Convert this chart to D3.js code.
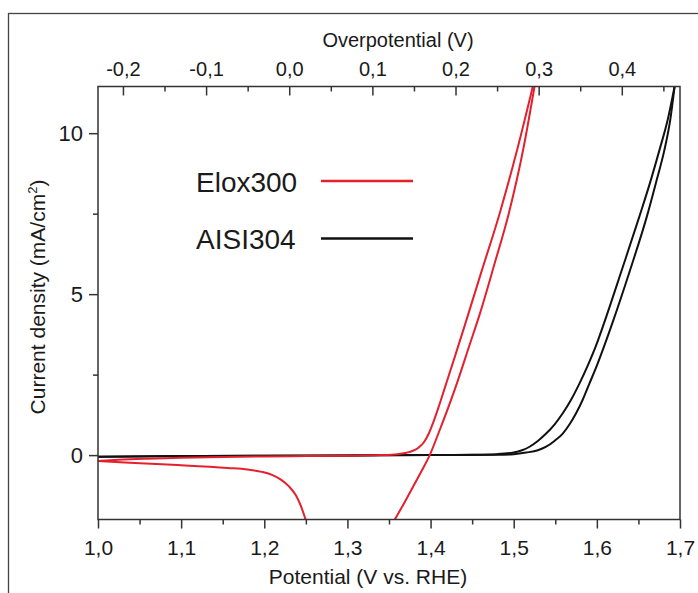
<!DOCTYPE html>
<html><head><meta charset="utf-8">
<script src="https://cdn.jsdelivr.net/npm/d3@7"></script>
<style>
body{margin:0;background:#fff}
svg{display:block}
text{font-family:"Liberation Sans",Arial,Helvetica,sans-serif;fill:#1a1a1a}
</style>
</head><body>
<svg id="chart" width="698" height="593"></svg>
<script>
// ---------- data ----------
const potentialTicks = [1.0, 1.1, 1.2, 1.3, 1.4, 1.5, 1.6, 1.7];
const potentialMinor = [1.05, 1.15, 1.25, 1.35, 1.45, 1.55, 1.65];
const overTicks = [-0.2, -0.1, 0.0, 0.1, 0.2, 0.3, 0.4];
const overMinor = [-0.15, -0.05, 0.05, 0.15, 0.25, 0.35, 0.45];
const currentTicks = [0, 5, 10];
const currentMinor = [2.5, 7.5];
const overpotentialOffset = 1.23;
const seriesNames = ["Elox300", "AISI304"];

// [potential (V vs RHE), current density (mA/cm2)]
const elox300Forward = [[1.0,-0.18],[1.03,-0.14],[1.06,-0.11],[1.1,-0.08],[1.15,-0.06],[1.2,-0.04],[1.25,-0.03],[1.3,-0.02],[1.34,0.0],[1.36,0.03],[1.375,0.1],[1.385,0.22],[1.392,0.4],[1.398,0.68],[1.404,1.07],[1.41,1.52],[1.417,2.08],[1.43,3.12],[1.442,4.1],[1.46,5.6],[1.483,7.5],[1.505,9.57],[1.523,11.45]];
const elox300Reverse = [[1.357,-2.0],[1.368,-1.5],[1.379,-0.98],[1.389,-0.5],[1.399,0.0],[1.411,0.78],[1.423,1.6],[1.433,2.33],[1.446,3.35],[1.46,4.45],[1.477,5.95],[1.494,7.5],[1.512,9.57],[1.525,11.45]];
const elox300Cathodic = [[1.0,-0.18],[1.038,-0.24],[1.096,-0.31],[1.156,-0.4],[1.18,-0.45],[1.197,-0.52],[1.21,-0.62],[1.22,-0.76],[1.23,-0.98],[1.238,-1.25],[1.244,-1.58],[1.2497,-2.0]];
const aisi304Forward = [[1.0,-0.05],[1.1,-0.03],[1.2,-0.02],[1.3,-0.01],[1.4,0.0],[1.45,0.01],[1.48,0.03],[1.5,0.08],[1.51,0.15],[1.519,0.26],[1.529,0.44],[1.539,0.67],[1.549,0.95],[1.559,1.3],[1.569,1.72],[1.579,2.22],[1.589,2.78],[1.599,3.4],[1.61,4.2],[1.63,5.75],[1.651,7.4],[1.665,8.55],[1.675,9.45],[1.6855,10.45],[1.6935,11.45]];
const aisi304Reverse = [[1.0,-0.05],[1.1,-0.03],[1.2,-0.02],[1.3,-0.01],[1.4,0.0],[1.48,0.01],[1.5,0.03],[1.515,0.08],[1.529,0.15],[1.539,0.26],[1.549,0.44],[1.559,0.67],[1.567,0.95],[1.575,1.3],[1.583,1.72],[1.591,2.22],[1.6,2.78],[1.609,3.4],[1.62,4.2],[1.64,5.75],[1.66,7.4],[1.672,8.55],[1.681,9.45],[1.6885,10.45],[1.6935,11.45]];

// ---------- layout ----------
const W = 698, H = 593;
const M = {left: 98, right: 680, top: 86.5, bottom: 519.5};
const red = "#e4202e", black = "#111111", axisColor = "#333";
const fmt = d => d3.format(".1f")(d).replace("\u2212", "-").replace(".", ",");

const svg = d3.select("#chart");
svg.append("rect").attr("width", W).attr("height", H).attr("fill", "#fff");
// outer frame
svg.append("rect").attr("x", 8.5).attr("y", 13.5).attr("width", 720).attr("height", 620)
  .attr("fill", "none").attr("stroke", "#444").attr("stroke-width", 1.3);

const x = d3.scaleLinear().domain([1.0, 1.7]).range([M.left, M.right]);
const xTop = d3.scaleLinear().domain([1.0 - overpotentialOffset, 1.7 - overpotentialOffset]).range([M.left, M.right]);
const y = d3.scaleLinear().domain([-2, 11.45]).range([M.bottom, M.top]);

svg.append("clipPath").attr("id", "clip").append("rect")
  .attr("x", M.left).attr("y", M.top).attr("width", M.right - M.left).attr("height", M.bottom - M.top);

// curves
const line = d3.line().x(d => x(d[0])).y(d => y(d[1])).curve(d3.curveMonotoneX);
const curves = [
  {data: aisi304Forward, color: black},
  {data: aisi304Reverse, color: black},
  {data: elox300Forward, color: red},
  {data: elox300Reverse, color: red},
  {data: elox300Cathodic, color: red}
];
const g = svg.append("g").attr("clip-path", "url(#clip)");
curves.forEach(c => {
  g.append("path").datum(c.data).attr("d", line).attr("fill", "none")
    .attr("stroke", c.color).attr("stroke-width", 2).attr("stroke-linejoin", "round");
});

// plot box
svg.append("rect").attr("x", M.left).attr("y", M.top).attr("width", M.right - M.left).attr("height", M.bottom - M.top)
  .attr("fill", "none").attr("stroke", axisColor).attr("stroke-width", 1.5);

function styleAxis(sel, fs) {
  sel.select(".domain").remove();
  sel.selectAll(".tick line").attr("stroke", axisColor).attr("stroke-width", 1.5);
  sel.selectAll("text").attr("font-size", fs).attr("fill", "#1a1a1a")
    .attr("font-family", '"Liberation Sans",Arial,sans-serif');
}

// bottom axis
svg.append("g").attr("transform", `translate(0,${M.bottom})`)
  .call(d3.axisBottom(x).tickValues(potentialMinor).tickSize(5).tickFormat(""))
  .call(s => styleAxis(s, 21));
svg.append("g").attr("transform", `translate(0,${M.bottom})`)
  .call(d3.axisBottom(x).tickValues(potentialTicks).tickSize(9).tickPadding(12).tickFormat(fmt))
  .call(s => styleAxis(s, 21));

// top axis (ticks inward)
svg.append("g").attr("transform", `translate(0,${M.top})`)
  .call(d3.axisTop(xTop).tickValues(overMinor).tickSizeInner(-5).tickSizeOuter(0).tickFormat(""))
  .call(s => styleAxis(s, 20));
svg.append("g").attr("transform", `translate(0,${M.top})`)
  .call(d3.axisTop(xTop).tickValues(overTicks).tickSizeInner(-9).tickSizeOuter(0).tickPadding(11).tickFormat(fmt))
  .call(s => styleAxis(s, 20));

// left axis
svg.append("g").attr("transform", `translate(${M.left},0)`)
  .call(d3.axisLeft(y).tickValues(currentMinor).tickSize(5).tickFormat(""))
  .call(s => styleAxis(s, 22));
svg.append("g").attr("transform", `translate(${M.left},0)`)
  .call(d3.axisLeft(y).tickValues(currentTicks).tickSize(9).tickPadding(6).tickFormat(d3.format("d")))
  .call(s => styleAxis(s, 22));

// titles
svg.append("text").attr("x", 398).attr("y", 47).attr("text-anchor", "middle").attr("font-size", 20)
  .text("Overpotential (V)");
svg.append("text").attr("x", 368).attr("y", 584).attr("text-anchor", "middle").attr("font-size", 21)
  .text("Potential (V vs. RHE)");
const yt = svg.append("text").attr("transform", "translate(45,297) rotate(-90)").attr("text-anchor", "middle")
  .attr("font-size", 21);
yt.append("tspan").text("Current density (mA/cm");
yt.append("tspan").attr("font-size", 13).attr("dy", -8).text("2");
yt.append("tspan").attr("dy", 8).text(")");

// legend
const legColors = [red, black];
seriesNames.forEach((name, i) => {
  const ly = 181 + i * 57.5;
  svg.append("text").attr("x", 196).attr("y", ly + 10.5).attr("font-size", 28).text(name);
  svg.append("line").attr("x1", 321).attr("x2", 413).attr("y1", ly).attr("y2", ly)
    .attr("stroke", legColors[i]).attr("stroke-width", 2.6);
});
</script>
</body></html>
